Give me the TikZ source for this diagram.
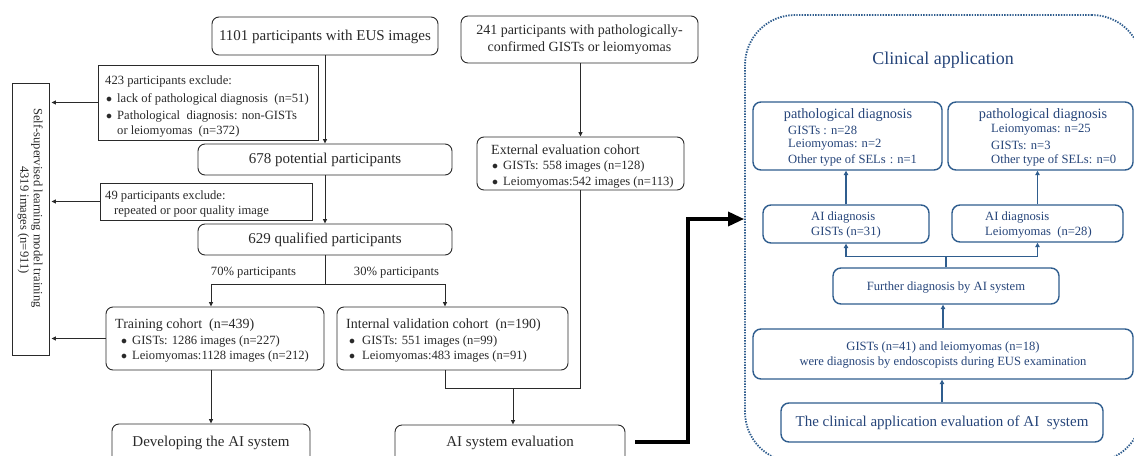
\documentclass[tikz,border=0pt]{standalone}
\usepackage{fontspec}
\setmainfont{Liberation Serif}
\usetikzlibrary{arrows.meta}
\definecolor{ink}{HTML}{2A2A2A}
\definecolor{bl}{HTML}{2F5D8E}
\definecolor{bltxt}{HTML}{26457A}
\newcommand{\mybul}[1]{\makebox[#1][l]{$\bullet$}}
\begin{document}
\begin{tikzpicture}[x=1pt,y=-1pt,
  lbox/.style={draw=ink,line width=0.9pt,rounded corners=7pt,inner sep=0pt},
  sqbox/.style={draw=ink,line width=0.9pt,inner sep=0pt},
  bbox/.style={draw=bl,line width=1.4pt,rounded corners=8pt,inner sep=0pt},
  tbig/.style={font=\fontsize{15}{18}\selectfont,text=ink,inner sep=0pt},
  tmid/.style={font=\fontsize{14}{17}\selectfont,text=ink,inner sep=0pt},
  tsm/.style={font=\fontsize{12.6}{15}\selectfont,text=ink,inner sep=0pt},
  btsm/.style={font=\fontsize{12.6}{15}\selectfont,text=bltxt,inner sep=0pt},
  btmid/.style={font=\fontsize{14.3}{17}\selectfont,text=bltxt,inner sep=0pt},
  btbig/.style={font=\fontsize{15}{18}\selectfont,text=bltxt,inner sep=0pt},
  arr/.style={draw=ink,line width=0.9pt,-{Triangle[length=4.5pt,width=4pt]}},
  ln/.style={draw=ink,line width=0.9pt},
  barr/.style={draw=bl,line width=1.6pt,-{Triangle[length=4.5pt,width=4.5pt]}},
  bln/.style={draw=bl,line width=1.6pt},
  thickarr/.style={draw=black,line width=3.3pt,-{Triangle[length=16pt,width=14pt]}}]
\useasboundingbox (0,0) rectangle (1134,455);
\fill[white] (0,0) rectangle (1134,455);
\clip (0,0) rectangle (1134,455);

% ---------------- left part ----------------
\node[lbox,minimum width=226pt,minimum height=38pt] (n1101) at (325,36) {};
\node[tbig] (t1101) at (325,37) {1101 participants with EUS images};

\node[lbox,minimum width=237pt,minimum height=47pt] (n241) at (579.5,39.5) {};
\node[tmid,align=center] (t241) at (579.5,40) {241 participants with pathologically-\\confirmed GISTs or leiomyomas};

\node[sqbox,minimum width=220pt,minimum height=75pt] (excl1) at (208,102.5) {};
\node[tsm,anchor=west] (e1a) at (105,81) {423 participants exclude:};
\node[tsm,anchor=west] (e1b) at (106,99) {\mybul{11pt}lack of pathological diagnosis\enspace(n=51)};
\node[tsm,anchor=west] (e1c) at (106,116) {\mybul{11pt}Pathological\ \ diagnosis: non-GISTs};
\node[tsm,anchor=west] (e1d) at (117,131) {or leiomyomas\enspace(n=372)};

\node[lbox,minimum width=254pt,minimum height=31pt] (n678) at (325,159.5) {};
\node[tbig] (t678) at (325,160) {678 potential participants};

\node[sqbox,minimum width=212pt,minimum height=37pt] (excl2) at (206,201.5) {};
\node[tsm,anchor=west] (e2a) at (105,196) {49 participants exclude:};
\node[tsm,anchor=west] (e2b) at (114,211) {repeated or poor quality image};

\node[lbox,minimum width=254pt,minimum height=31pt] (n629) at (325,239.5) {};
\node[tbig] (t629) at (325,240) {629 qualified participants};

\node[tsm] (p70) at (253.5,273) {70\% participants};
\node[tsm] (p30) at (396.5,273) {30\% participants};

\node[lbox,minimum width=218pt,minimum height=63pt] (train) at (215,338.5) {};
\node[tmid,anchor=west] (tr1) at (115,325) {Training cohort\enspace(n=439)};
\node[tsm,anchor=west] (tr2) at (121,341) {\mybul{11pt}GISTs: 1286 images (n=227)};
\node[tsm,anchor=west] (tr3) at (121,356) {\mybul{11pt}Leiomyomas:1128 images (n=212)};

\node[lbox,minimum width=231pt,minimum height=63pt] (int) at (452.5,338.5) {};
\node[tmid,anchor=west] (in1) at (346,325) {Internal validation cohort\enspace(n=190)};
\node[tsm,anchor=west] (in2) at (349,341) {\mybul{13pt}GISTs: 551 images (n=99)};
\node[tsm,anchor=west] (in3) at (349,356) {\mybul{13pt}Leiomyomas:483 images (n=91)};

\node[lbox,minimum width=207pt,minimum height=53pt] (ext) at (580.5,163.5) {};
\node[tmid,anchor=west] (ex1) at (491,150) {External evaluation cohort};
\node[tsm,anchor=west] (ex2) at (492,166) {\mybul{11pt}GISTs: 558 images (n=128)};
\node[tsm,anchor=west] (ex3) at (492,182) {\mybul{11pt}Leiomyomas:542 images (n=113)};

\node[lbox,minimum width=198pt,minimum height=40pt] (dev) at (211,444) {};
\node[tbig] (tdev) at (211,443) {Developing the AI system};

\node[lbox,minimum width=230pt,minimum height=40pt] (eval) at (510,445) {};
\node[tbig] (teval) at (510,443) {AI system evaluation};

\node[sqbox,minimum width=37pt,minimum height=272pt] (ssl) at (30.5,219) {};
\node[tsm,rotate=-90] (ssl1) at (37,208) {Self-supervised learning model training};
\node[tsm,rotate=-90] (ssl2) at (23.5,220) {4319 images (n=911)};

% connectors left
\draw[arr] (n1101) -- (n678);
\draw[arr] (n678) -- (n629);
\draw[ln] (n629.south) -- ++(0,29) coordinate (sp);
\draw[arr] (sp) -| ([xshift=-4pt]train.north);
\draw[arr] (sp) -| ([xshift=-7.5pt]int.north);
\draw[arr] (dev.north |- train.south) -- (dev.north);
\draw[arr,shorten >=2pt] (excl1.west) -- (excl1.west -| ssl.east);
\draw[arr,shorten >=2pt] (excl2.west) -- (excl2.west -| ssl.east);
\draw[arr,shorten >=2pt] (train.west) -- (train.west -| ssl.east);
\draw[arr] (ext.north |- n241.south) -- (ext.north);
\coordinate (jn) at (513,388);
\draw[ln] (ext.south) |- ([xshift=-7.5pt]int.south |- jn) -- ([xshift=-7.5pt]int.south);
\draw[arr] (jn) -- (jn |- eval.north);

% ---------------- right panel ----------------
\node[draw=bl,line width=1.8pt,dash pattern=on 1.4pt off 1.3pt,rounded corners=50pt,
      minimum width=397pt,minimum height=447pt,inner sep=0pt] (cont) at (943.5,238.5) {};
\node[font=\fontsize{18}{21}\selectfont,text=bltxt,inner sep=0pt] (title) at (943,60) {Clinical application};

\node[bbox,minimum width=189pt,minimum height=68pt] (pd1) at (847.5,136) {};
\node[btmid] (pd1t) at (848,115) {pathological diagnosis};
\node[btsm,anchor=west] (pd1a) at (788,130) {GISTs : n=28};
\node[btsm,anchor=west] (pd1b) at (788,145) {Leiomyomas: n=2};
\node[btsm,anchor=west] (pd1c) at (788,160) {Other type of SELs\hspace{4pt}:\hspace{4pt}n=1};

\node[bbox,minimum width=185pt,minimum height=68pt] (pd2) at (1040.5,136) {};
\node[btmid] (pd2t) at (1043,115) {pathological diagnosis};
\node[btsm,anchor=west] (pd2a) at (991,130) {Leiomyomas: n=25};
\node[btsm,anchor=west] (pd2b) at (991,145) {GISTs: n=3};
\node[btsm,anchor=west] (pd2c) at (991,160) {Other type of SELs: n=0};

\node[bbox,minimum width=166pt,minimum height=38pt] (ai1) at (846,224) {};
\node[btsm,anchor=west] (ai1a) at (811,217) {AI diagnosis};
\node[btsm,anchor=west] (ai1b) at (811,232) {GISTs (n=31)};

\node[bbox,minimum width=171pt,minimum height=37pt] (ai2) at (1037.5,223.5) {};
\node[btsm,anchor=west] (ai2a) at (985,217) {AI diagnosis};
\node[btsm,anchor=west] (ai2b) at (985,232) {Leiomyomas\enspace(n=28)};

\node[bbox,minimum width=226pt,minimum height=36pt] (further) at (946,286) {};
\node[btsm] (furthert) at (946,287) {Further diagnosis by AI system};

\node[bbox,minimum width=380pt,minimum height=50pt] (gists) at (943,354) {};
\node[btsm] (gistsa) at (943,347) {GISTs (n=41) and leiomyomas (n=18)};
\node[btsm] (gistsb) at (943,362) {were diagnosis by endoscopists during EUS examination};

\node[bbox,minimum width=322pt,minimum height=39pt] (clin) at (942,422.5) {};
\node[btbig] (clint) at (942,423) {The clinical application evaluation of AI\ \ system};

% connectors right
\draw[barr] (ai1.north) -- (ai1.north |- pd1.south);
\draw[barr] (ai2.north) -- (ai2.north |- pd2.south);
\draw[bln] (further.north) -- ++(0,-11) coordinate (fj);
\draw[barr] (fj) -| (ai1.south);
\draw[barr] (fj) -| (ai2.south);
\draw[barr] (gists.north) -- (gists.north |- further.south);
\draw[barr] (clin.north) -- (clin.north |- gists.south);

% thick arrow
\coordinate (tk) at (688,219);
\draw[thickarr] ([xshift=10pt,yshift=3pt]eval.east) -| (tk) -- (tk -| cont.west);
\end{tikzpicture}
\end{document}
